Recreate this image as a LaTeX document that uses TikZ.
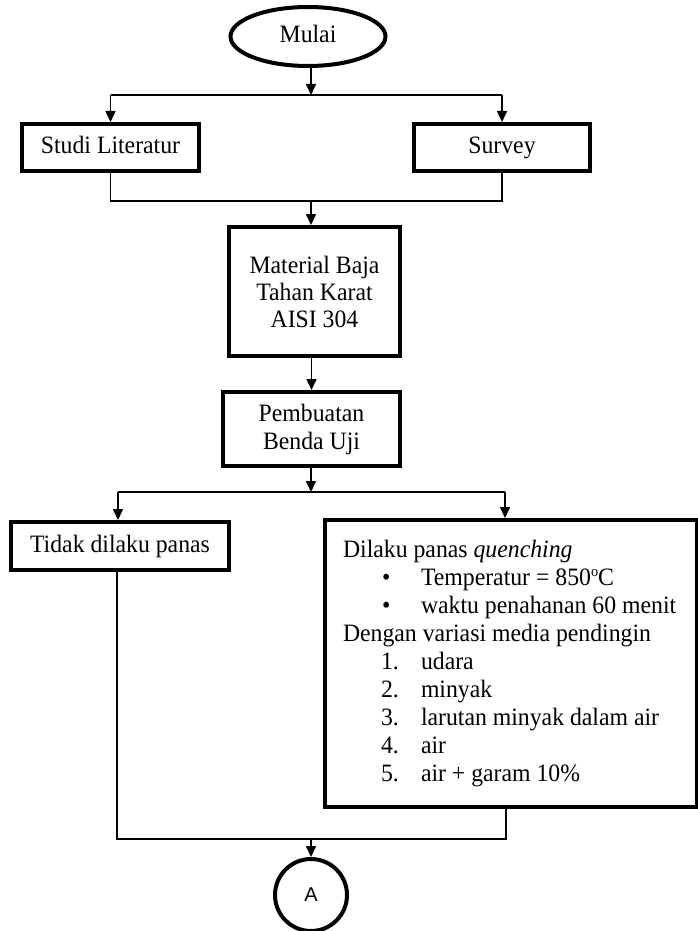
\documentclass[tikz,border=0pt]{standalone}
\usepackage{fontspec}
\setmainfont{Liberation Serif}[FakeStretch=0.95]
\newfontfamily\sansA{Liberation Sans}
\usetikzlibrary{arrows.meta,shapes.geometric}
\newcommand{\supo}{\raisebox{0.75ex}{\fontsize{15}{15}\selectfont o}}
\begin{document}
\begin{tikzpicture}[x=1pt,y=-1pt,
  box/.style={draw,line width=4pt,rectangle,inner sep=0pt,font=\fontsize{25}{27}\selectfont,align=center},
  oneline/.style={text height=17pt,text depth=5pt},
  conn/.style={line width=1.5pt},
  arr/.style={conn,-{Triangle[length=11pt,width=10pt]}},
]
\useasboundingbox (0,0) rectangle (698,931);
\node[box,oneline,ellipse,minimum width=155pt,minimum height=59pt] (mulai) at (308,36.5) {Mulai};
\node[box,oneline,minimum width=177pt,minimum height=47pt] (studi) at (110.5,147.5) {Studi Literatur};
\node[box,oneline,minimum width=176pt,minimum height=47pt] (survey) at (502,147.5) {Survey};
\node[box,minimum width=171pt,minimum height=129pt] (material) at (314.5,291.5) {Material Baja\\Tahan Karat\\AISI 304};
\node[box,minimum width=177pt,minimum height=74pt,font=\fontsize{25}{28}\selectfont] (pembuatan) at (311.5,429) {Pembuatan\\Benda Uji};
\node[box,oneline,minimum width=218pt,minimum height=48pt] (tidak) at (120,546) {Tidak dilaku panas};
\node[box,minimum width=372pt,minimum height=287pt,text width=336pt,inner xsep=18pt,align=flush left,font=\fontsize{25}{28}\selectfont] (big) at (511,663.5) {Dilaku panas \textit{quenching}\\
\hspace*{39pt}\makebox[39pt][l]{\textbullet}Temperatur = 850\supo C\\
\hspace*{39pt}\makebox[39pt][l]{\textbullet}waktu penahanan 60 menit\\
Dengan variasi media pendingin\\
\hspace*{38pt}\makebox[40pt][l]{1.}udara\\
\hspace*{38pt}\makebox[40pt][l]{2.}minyak\\
\hspace*{38pt}\makebox[40pt][l]{3.}larutan minyak dalam air\\
\hspace*{38pt}\makebox[40pt][l]{4.}air\\
\hspace*{38pt}\makebox[40pt][l]{5.}air + garam 10\%};
\node[box,circle,minimum size=72pt,font=\sansA\fontsize{20}{24}\selectfont] (a) at (311,895) {A};
% top split
\coordinate (j1) at (311,95);
\draw[arr] (mulai.south -| j1) -- (j1);
\draw[conn] (studi.north |- j1) -- (survey.north |- j1);
\draw[arr] (studi.north |- j1) -- (studi.north);
\draw[arr] (survey.north |- j1) -- (survey.north);
% merge 1
\coordinate (m1) at (311,201);
\draw[conn] (studi.south) -- (studi.south |- m1) -- (survey.south |- m1) -- (survey.south);
\draw[arr] (m1) -- (material.north -| m1);
\draw[arr] (material.south -| pembuatan.north) -- (pembuatan.north);
% split 2
\coordinate (s1) at (311,492);
\coordinate (sl) at (118,492);
\coordinate (sr) at (505,492);
\draw[arr] (pembuatan.south -| s1) -- (s1);
\draw[conn] (sl) -- (sr);
\draw[arr] (sl) -- (sl |- tidak.north);
\draw[arr] (sr) -- (sr |- big.north);
% merge 2
\coordinate (ml) at (117,839);
\coordinate (mr) at (506,839);
\coordinate (m2) at (311,839);
\draw[conn] (ml |- tidak.south) -- (ml) -- (mr) -- (mr |- big.south);
\draw[arr] (m2) -- (a.north);
\end{tikzpicture}
\end{document}
